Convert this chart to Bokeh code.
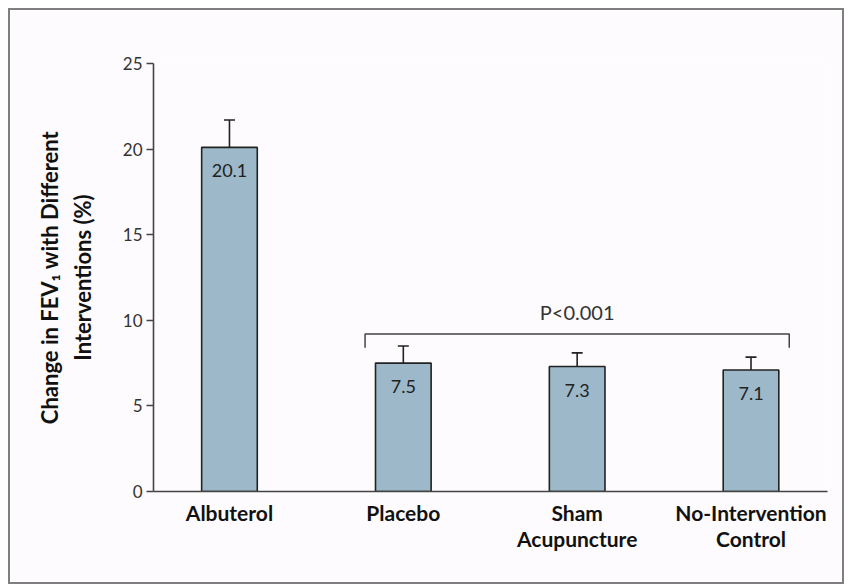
from bokeh.plotting import figure
from bokeh.models import ColumnDataSource, FixedTicker, Whisker, TeeHead, Range1d
from bokeh.core.properties import value
from bokeh.embed import file_html
from bokeh.resources import INLINE

categories = ["Albuterol", "Placebo", "Sham\nAcupuncture", "No-Intervention\nControl"]
means = [20.1, 7.5, 7.3, 7.1]
errors = [1.6, 1.0, 0.8, 0.75]
y_ticks = [0, 5, 10, 15, 20, 25]
p_text = "P<0.001"
bracket_y = 9.2
bracket_drop = 0.8

FONT = "Lato"
xs = list(range(len(categories)))

src = ColumnDataSource(dict(
    x=xs, top=means, upper=[m + e for m, e in zip(means, errors)],
    label=[f"{m:.1f}" for m in means],
))

p = figure(width=832, height=572, output_backend="svg", toolbar_location=None,
           x_range=Range1d(-0.437, 3.44), y_range=Range1d(0, 25),
           min_border_left=143, min_border_right=19, min_border_top=53, min_border_bottom=95)
p.styles = {"border": "2px solid #7f7f7f", "box-sizing": "content-box",
            "margin": "8px 0 0 8px"}
p.background_fill_color = "#fdfbfd"
p.border_fill_color = "#fdfbfd"
p.outline_line_color = None
p.grid.visible = False

p.vbar(x="x", top="top", width=0.32, bottom=0, source=src,
       fill_color="#9cb8c9", line_color="#222222", line_width=1.6)

w = Whisker(base="x", lower="top", upper="upper", source=src,
            line_color="#222222", line_width=1.6,
            upper_head=TeeHead(size=11, line_color="#222222", line_width=1.6),
            lower_head=None)
p.add_layout(w)

p.text(x="x", y="top", text="label", source=src, text_align="center",
       text_baseline="top", y_offset=17, text_font=value(FONT),
       text_font_size="18px", text_color="#222222")

# bracket
left_b, right_b = 1 - 0.22, 3 + 0.22
p.line(x=[left_b, left_b, right_b, right_b],
       y=[bracket_y - bracket_drop, bracket_y, bracket_y, bracket_y - bracket_drop],
       line_color="#444444", line_width=1.5)
p.text(x=[2], y=[bracket_y], text=[p_text], text_align="center", text_baseline="bottom",
       y_offset=-10, text_font=value(FONT), text_font_size="20px", text_color="#333333")

# axes
p.xaxis.ticker = FixedTicker(ticks=xs)
p.xaxis.major_label_overrides = {i: c for i, c in zip(xs, categories)}
p.xaxis.major_tick_line_color = None
p.xaxis.minor_tick_line_color = None
p.xaxis.major_label_text_font = FONT
p.xaxis.major_label_text_font_style = "bold"
p.xaxis.major_label_text_font_size = "21px"
p.xaxis.major_label_text_line_height = 1.05
p.xaxis.major_label_text_color = "#111111"
p.xaxis.major_label_standoff = 2
p.xaxis.axis_line_color = "#444444"
p.xaxis.axis_line_width = 1.6

p.yaxis.ticker = FixedTicker(ticks=y_ticks)
p.yaxis.minor_tick_line_color = None
p.yaxis.major_tick_out = 7
p.yaxis.major_tick_in = 0
p.yaxis.major_tick_line_color = "#444444"
p.yaxis.major_tick_line_width = 1.4
p.yaxis.axis_line_color = "#444444"
p.yaxis.axis_line_width = 1.6
p.yaxis.major_label_text_font = FONT
p.yaxis.major_label_text_font_size = "17px"
p.yaxis.major_label_text_color = "#333333"
p.yaxis.major_label_standoff = 4
p.yaxis.axis_label = "Change in FEV\u2081 with Different\nInterventions (%)"
p.yaxis.axis_label_text_font = FONT
p.yaxis.axis_label_text_font_style = "bold"
p.yaxis.axis_label_text_font_size = "22px"
p.yaxis.axis_label_text_color = "#111111"
p.yaxis.axis_label_standoff = 24

open("out.html", "w").write(file_html(p, INLINE))
